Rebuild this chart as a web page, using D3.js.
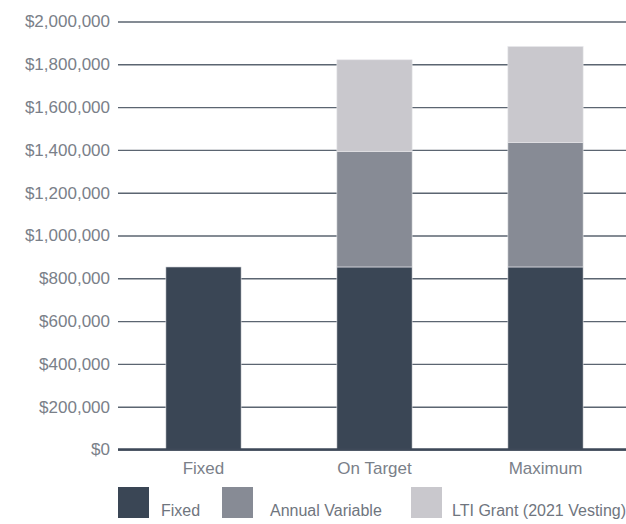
<!DOCTYPE html>
<html>
<head>
<meta charset="utf-8">
<script src="https://cdn.jsdelivr.net/npm/d3@7"></script>
<style>
  body { margin: 0; background: #fff; }
  svg { display: block; font-family: "Liberation Sans", Arial, sans-serif; }
  .tick text, .lbl { fill: #7a8089; font-size: 17px; }
  .leg { fill: #6f757e; font-size: 16px; }
</style>
</head>
<body>
<svg width="626" height="524"></svg>
<script>
categories = ["Fixed", "On Target", "Maximum"];
fixedVals = [853000, 853000, 853000];
annualVals = [0, 539000, 581000];
ltiVals = [0, 429000, 449000];
seriesNames = ["Fixed", "Annual Variable", "LTI Grant (2021 Vesting)"];
seriesColors = ["#3a4655", "#878b95", "#c9c8cd"];
yTicks = [0, 200000, 400000, 600000, 800000, 1000000, 1200000, 1400000, 1600000, 1800000, 2000000];

const svg = d3.select("svg");
const plotLeft = 118, plotRight = 631, plotTop = 21.5, plotBottom = 449.5;

var rows = categories.map(function(c, i){
    return { cat: c, fixed: fixedVals[i], annual: annualVals[i], lti: ltiVals[i] };
});
var stack = d3.stack().keys(["fixed", "annual", "lti"])(rows);

var x = d3.scaleBand().domain(categories).range([plotLeft, plotRight])
    .paddingInner(0.56).paddingOuter(0.28);
var y = d3.scaleLinear().domain([0, 2000000]).range([plotBottom, plotTop]);

// grid lines with labels
var yAxis = svg.append("g")
    .attr("transform", "translate(" + plotLeft + ",0)")
    .call(d3.axisLeft(y).tickValues(yTicks)
        .tickSize(-(626 - plotLeft)).tickPadding(8)
        .tickFormat(function(d){ return "$" + d3.format(",")(d); }));
yAxis.select(".domain").remove();
yAxis.selectAll(".tick line")
    .attr("stroke-width", 1.4)
    .attr("stroke", "#5b6571");
yAxis.selectAll(".tick text").attr("font-size", null).attr("font-family", null);

// bars
svg.append("g").selectAll("g")
    .data(stack)
    .join("g")
    .attr("fill", function(d, i){ return seriesColors[i]; })
    .selectAll("rect")
    .data(function(d){ return d; })
    .join("rect")
    .attr("x", function(d){ return x(d.data.cat); })
    .attr("width", x.bandwidth())
    .attr("y", function(d){ return y(d[1]); })
    .attr("height", function(d){ return y(d[0]) - y(d[1]); })
    .attr("stroke", "#e6e6ea")
    .attr("stroke-width", function(d){ return d[1] > d[0] ? 0.6 : 0; });

// zero line on top of the bars
svg.append("line")
    .attr("x1", plotLeft).attr("x2", 626)
    .attr("y1", y(0)).attr("y2", y(0))
    .attr("stroke", "#3e4958").attr("stroke-width", 2.5);

// category labels
svg.append("g").selectAll("text")
    .data(categories)
    .join("text")
    .attr("class", "lbl")
    .attr("x", function(d){ return x(d) + x.bandwidth() / 2; })
    .attr("y", 474)
    .attr("text-anchor", "middle")
    .text(function(d){ return d; });

// legend (last label runs off the right edge, as in the original)
var legX = [118, 222, 411];
var legTextX = [43, 48, 41];
var leg = svg.append("g").selectAll("g")
    .data(seriesNames)
    .join("g")
    .attr("transform", function(d, i){ return "translate(" + legX[i] + ",487)"; });
leg.append("rect")
    .attr("width", 31).attr("height", 31)
    .attr("fill", function(d, i){ return seriesColors[i]; });
leg.append("text")
    .attr("class", "leg")
    .attr("x", function(d, i){ return legTextX[i]; })
    .attr("y", 29)
    .text(function(d){ return d; });
</script>
</body>
</html>
